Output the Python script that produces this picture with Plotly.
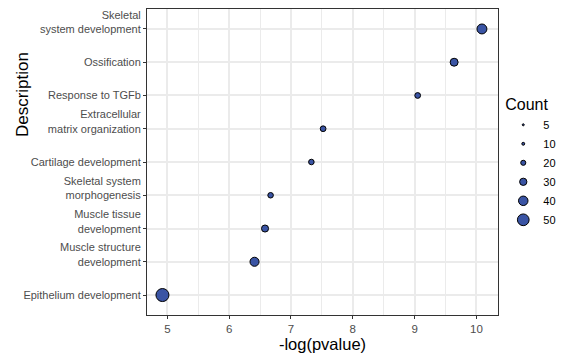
import plotly.graph_objects as go

# Data (top to bottom as displayed)
descriptions = [
    "Skeletal<br>system development",
    "Ossification",
    "Response to TGFb",
    "Extracellular<br>matrix organization",
    "Cartilage development",
    "Skeletal system<br>morphogenesis",
    "Muscle tissue<br>development",
    "Muscle structure<br>development",
    "Epithelium development",
]
neg_log_p = [10.09, 9.64, 9.05, 7.52, 7.33, 6.67, 6.58, 6.41, 4.92]
counts = [42, 33, 23, 23, 22, 22, 29, 38, 56]
legend_counts = [5, 10, 20, 30, 40, 50]
x_ticks = [5, 6, 7, 8, 9, 10]

FILL = "#3A54A4"
FONT = "Liberation Sans, Arial, sans-serif"


def diam(c):
    # visible diameter grows linearly with count; subtract outline width
    return 0.22 * c + 1.7 - 1.0


# single-line labels get an empty leading line so that, after the shift,
# two-line labels sit slightly above their tick like in the reference
tick_text = [d if "<br>" in d else "<br>" + d for d in descriptions]

fig = go.Figure()
fig.add_trace(go.Scatter(
    x=neg_log_p, y=descriptions, mode="markers",
    marker=dict(size=[diam(c) for c in counts], color=FILL, opacity=1,
                line=dict(color="black", width=1)),
    showlegend=False, hoverinfo="x+y",
))
for c in legend_counts:
    fig.add_trace(go.Scatter(
        x=[None], y=[None], mode="markers", name=str(c),
        marker=dict(size=diam(c), color=FILL, opacity=1,
                    line=dict(color="black", width=1)),
        showlegend=True,
    ))

n = len(descriptions)
fig.update_layout(
    width=570, height=358,
    margin=dict(l=147, r=68, t=9, b=43),
    paper_bgcolor="white", plot_bgcolor="white",
    font=dict(family=FONT, color="#4D4D4D", size=11),
    xaxis=dict(
        range=[4.67, 10.35], tickvals=x_ticks, ticktext=[str(t) for t in x_ticks],
        showgrid=True, gridcolor="#EBEBEB", gridwidth=2,
        minor=dict(dtick=0.5, showgrid=True, gridcolor="#EBEBEB", gridwidth=1.2),
        ticks="outside", ticklen=3, tickcolor="#333333", tickwidth=1,
        tickfont=dict(size=11.5, color="#4D4D4D"),
        showline=True, linecolor="#333333", linewidth=1, mirror=True,
        zeroline=False,
        title=dict(text="-log(pvalue)", font=dict(size=16.5, color="black"), standoff=2),
    ),
    yaxis=dict(
        type="category", categoryorder="array", categoryarray=descriptions,
        tickvals=descriptions, ticktext=tick_text,
        ticklabelshift=7,
        range=[n - 0.4, -0.6],
        showgrid=True, gridcolor="#EBEBEB", gridwidth=2,
        ticks="outside", ticklen=3, tickcolor="#333333", tickwidth=1,
        tickfont=dict(size=11, color="#4D4D4D"),
        showline=True, linecolor="#333333", linewidth=1, mirror=True,
        zeroline=False,
    ),
    legend=dict(
        title=dict(text="Count", font=dict(size=16, color="black")),
        x=1.015, xanchor="left", y=0.5, yanchor="middle",
        font=dict(size=11, color="black"),
        itemsizing="trace", bgcolor="rgba(0,0,0,0)",
        tracegroupgap=0,
    ),
    annotations=[dict(
        text="Description", textangle=-90, xref="paper", yref="paper",
        x=-0.355, y=0.72, xanchor="center", yanchor="middle",
        showarrow=False, font=dict(size=17, color="black"),
    )],
)

fig.write_html("out.html")
